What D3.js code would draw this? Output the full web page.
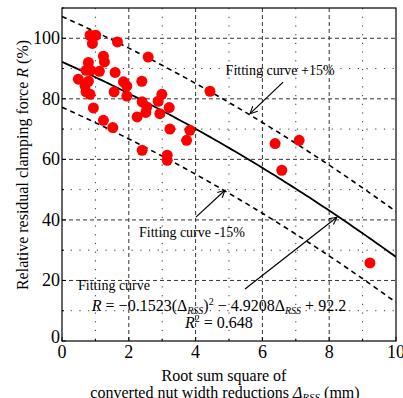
<!DOCTYPE html>
<html>
<head>
<meta charset="utf-8">
<script src="https://cdn.jsdelivr.net/npm/d3@7"></script>
<style>
  body { margin: 0; background: #fff; }
  text { font-family: "Liberation Serif", "Times New Roman", serif; }
</style>
</head>
<body>
<svg width="403" height="398"></svg>
<script>
// measured points: root sum square of nut width reductions (mm) vs residual force (%)
const rss = [0.84, 1.01, 0.91, 1.66, 2.58, 1.24, 1.27, 0.79, 0.72, 0.86, 1.12,
  1.59, 0.49, 0.79, 0.69, 0.84, 0.72, 1.84, 1.94, 2.39, 1.56, 1.94, 2.99, 2.88,
  2.40, 2.54, 2.51, 2.25, 2.93, 3.21, 0.94, 1.24, 1.52, 3.23, 3.83, 3.73, 2.40,
  3.15, 3.15, 4.43, 6.38, 7.10, 6.58, 9.22];
const force = [101, 101, 98.3, 98.8, 93.8, 94.1, 92.2, 92.0, 89.4, 89.4, 89.1,
  88.7, 86.5, 85.8, 84.3, 81.5, 82.3, 85.6, 84.2, 85.8, 82.3, 80.9, 81.5, 79.2,
  79.0, 77.3, 75.5, 74.0, 75.1, 77.1, 77.0, 72.9, 70.5, 70.0, 69.6, 66.3, 63.0,
  61.4, 59.7, 82.5, 65.2, 66.3, 56.4, 25.8];

// fit from the chart: R = -0.1523 d^2 - 4.9208 d + 92.2, band +-15
const fitCoef = [-0.1523, -4.9208, 92.2];
const bandOffsets = [15, 0, -15];

const xTicks = [0, 2, 4, 6, 8, 10];
const yTicks = [0, 20, 40, 60, 80, 100];

const svg = d3.select("svg");
const pLeft = 62, pRight = 396, pTop = 8, pBottom = 341;

const x = d3.scaleLinear().domain([0, 10]).range([pLeft, pRight]);
const y = d3.scaleLinear().domain([0, 110]).range([pBottom, pTop]);

const fit = d => fitCoef[0] * d * d + fitCoef[1] * d + fitCoef[2];

const defs = svg.append("defs");
defs.append("clipPath").attr("id", "plot")
  .append("rect").attr("x", pLeft).attr("y", pTop)
  .attr("width", pRight - pLeft).attr("height", pBottom - pTop);
defs.append("marker")
  .attr("id", "arrow")
  .attr("viewBox", "0 0 10 10")
  .attr("refX", 9).attr("refY", 5)
  .attr("markerWidth", 9).attr("markerHeight", 9)
  .attr("markerUnits", "userSpaceOnUse")
  .attr("orient", "auto")
  .append("path")
  .attr("d", "M1,1 L9,5 L1,9")
  .attr("fill", "none")
  .attr("stroke", "#000")
  .attr("stroke-width", 1.2);

// grid
const grid = svg.append("g");
d3.range(1, 10).forEach(v => {
  grid.append("line")
    .attr("x1", x(v)).attr("x2", x(v))
    .attr("y1", pTop).attr("y2", pBottom)
    .attr("stroke", "#333")
    .attr("stroke-width", 1)
    .attr("stroke-dasharray", v % 2 === 0 ? "4,3" : "1.2,7.5");
});
d3.range(10, 110, 10).forEach(v => {
  grid.append("line")
    .attr("x1", pLeft).attr("x2", pRight)
    .attr("y1", y(v)).attr("y2", y(v))
    .attr("stroke", "#333")
    .attr("stroke-width", 1)
    .attr("stroke-dasharray", v % 20 === 0 ? "4,3" : "1.2,7.5");
});

// ticks inside the box
const tk = svg.append("g").attr("stroke", "#000").attr("stroke-width", 1);
d3.range(0, 11).forEach(v => {
  const len = v % 2 === 0 ? 4 : 2;
  tk.append("line").attr("x1", x(v)).attr("x2", x(v))
    .attr("y1", pBottom).attr("y2", pBottom - len);
});
d3.range(0, 111, 10).forEach(v => {
  const len = v % 20 === 0 ? 4 : 2;
  tk.append("line").attr("x1", pLeft).attr("x2", pLeft + len)
    .attr("y1", y(v)).attr("y2", y(v));
});

// fitted curves
const plot = svg.append("g").attr("clip-path", "url(#plot)");
const samples = d3.range(0, 10.01, 0.1);
bandOffsets.forEach(off => {
  plot.append("path")
    .datum(samples)
    .attr("fill", "none")
    .attr("stroke", "#000")
    .attr("stroke-width", off === 0 ? 1.8 : 1.6)
    .attr("stroke-dasharray", off === 0 ? null : "5,4")
    .attr("d", d3.line().x(d => x(d)).y(d => y(fit(d) + off)));
});

// points
plot.selectAll("circle")
  .data(rss)
  .join("circle")
  .attr("cx", d => x(d))
  .attr("cy", (d, i) => y(force[i]))
  .attr("r", 5.5)
  .attr("fill", "#ff0000");

// box
svg.append("rect")
  .attr("x", pLeft).attr("y", pTop)
  .attr("width", pRight - pLeft).attr("height", pBottom - pTop)
  .attr("fill", "none").attr("stroke", "#000").attr("stroke-width", 1.2);

// tick labels
svg.append("g").selectAll("text")
  .data(xTicks).join("text")
  .attr("x", d => x(d)).attr("y", 358)
  .attr("text-anchor", "middle")
  .attr("font-size", 18)
  .text(d => d);
svg.append("g").selectAll("text")
  .data(yTicks).join("text")
  .attr("x", pLeft - 2).attr("y", d => y(d))
  .attr("dy", d => d === 0 ? "0.1em" : "0.32em")
  .attr("text-anchor", "end")
  .attr("font-size", 18)
  .text(d => d);

// axis titles
const yt = svg.append("text")
  .attr("transform", "translate(28,165) rotate(-90)")
  .attr("text-anchor", "middle")
  .attr("font-size", 16);
yt.append("tspan").text("Relative residual clamping force ");
yt.append("tspan").attr("font-style", "italic").text("R");
yt.append("tspan").text(" (%)");

svg.append("text")
  .attr("x", 224).attr("y", 381)
  .attr("text-anchor", "middle")
  .attr("font-size", 16)
  .text("Root sum square of");
const xt = svg.append("text")
  .attr("x", 225).attr("y", 398)
  .attr("text-anchor", "middle")
  .attr("font-size", 16);
xt.append("tspan").text("converted nut width reductions  ");
xt.append("tspan").attr("font-style", "italic").text("Δ");
xt.append("tspan").attr("font-style", "italic").attr("font-size", 11).attr("dy", 3).text("RSS");
xt.append("tspan").attr("dy", -3).text(" (mm)");

// annotations
const note = (tx, ty, anchor, label) => svg.append("text")
  .attr("x", x(tx)).attr("y", y(ty))
  .attr("text-anchor", anchor)
  .attr("font-size", 14)
  .text(label);
note(6.53, 87.8, "middle", "Fitting curve +15%");
note(3.89, 34.3, "middle", "Fitting curve -15%");
note(0.48, 16.8, "start", "Fitting curve");

const arrows = [
  [[6.62, 85.5], [5.63, 75.1]],
  [[4.01, 40.9], [4.88, 49.8]],
  [[5.48, 17.2], [8.23, 40.9]]
];
arrows.forEach(([a, b]) => {
  svg.append("line")
    .attr("x1", x(a[0])).attr("y1", y(a[1]))
    .attr("x2", x(b[0])).attr("y2", y(b[1]))
    .attr("stroke", "#000").attr("stroke-width", 1.2)
    .attr("marker-end", "url(#arrow)");
});

// equation
const eq = svg.append("text")
  .attr("x", x(4.70)).attr("y", y(9.9))
  .attr("text-anchor", "middle")
  .attr("font-size", 16);
eq.append("tspan").attr("font-style", "italic").text("R");
eq.append("tspan").text(" = −0.1523(Δ");
eq.append("tspan").attr("font-style", "italic").attr("font-size", 10).attr("dy", 3).text("RSS");
eq.append("tspan").attr("dy", -3).text(")");
eq.append("tspan").attr("font-size", 10).attr("dy", -6).text("2");
eq.append("tspan").attr("dy", 6).text(" − 4.9208Δ");
eq.append("tspan").attr("font-style", "italic").attr("font-size", 10).attr("dy", 3).text("RSS");
eq.append("tspan").attr("dy", -3).text(" + 92.2");

const r2 = svg.append("text")
  .attr("x", x(4.70)).attr("y", y(4.4))
  .attr("text-anchor", "middle")
  .attr("font-size", 16);
r2.append("tspan").attr("font-style", "italic").text("R");
r2.append("tspan").attr("font-size", 10).attr("dy", -6).text("2");
r2.append("tspan").attr("dy", 6).text(" = 0.648");
</script>
</body>
</html>
